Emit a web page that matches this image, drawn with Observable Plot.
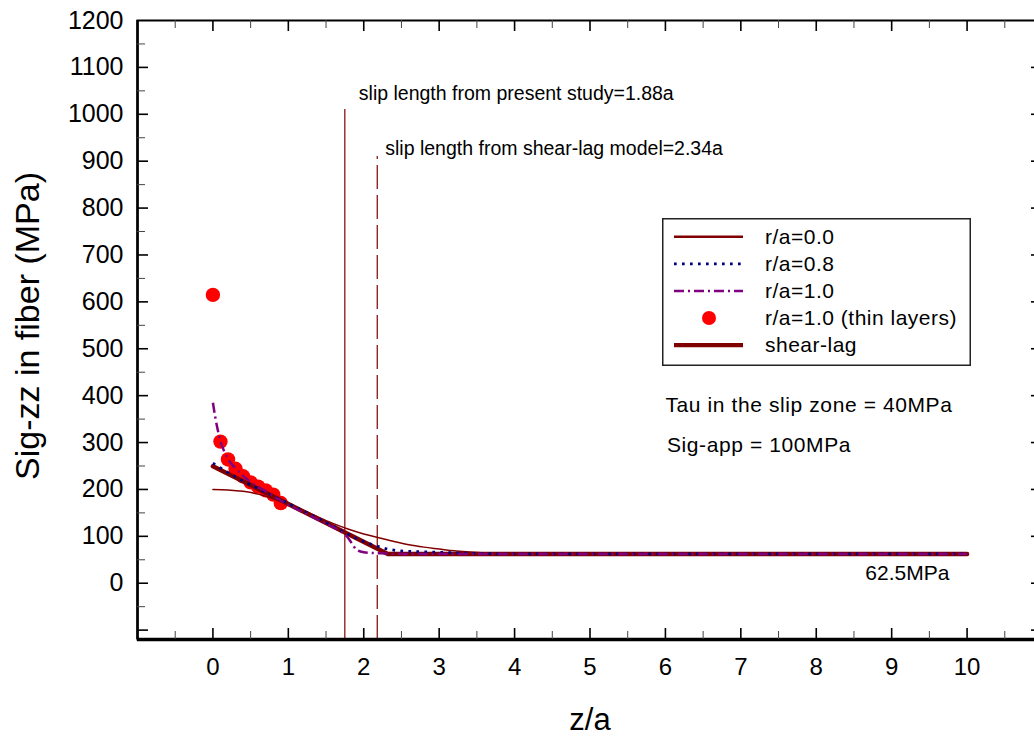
<!DOCTYPE html>
<html><head><meta charset="utf-8">
<script src="https://cdn.jsdelivr.net/npm/d3@7"></script>
<script src="https://cdn.jsdelivr.net/npm/@observablehq/plot@0.6"></script>
<style>
html,body{margin:0;padding:0;background:#fff;overflow:hidden;}
#wrap{position:relative;width:1034px;height:740px;overflow:hidden;}
#wrap > svg{max-width:none !important;}
#legend{position:absolute;left:662px;top:218px;}
</style></head><body><div id="wrap"></div>
<script>
// ---- data ----
const xDomain = [-1, 11];
const yDomain = [-120, 1200];
const xLabelTicks = [0,1,2,3,4,5,6,7,8,9,10];
const yLabelTicks = [0,100,200,300,400,500,600,700,800,900,1000,1100,1200];
const xMajor = [0,1,2,3,4,5,6,7,8,9,10];
const xMinor = [-0.5,0.5,1.5,2.5,3.5,4.5,5.5,6.5,7.5,8.5,9.5,10.5];
const yMajor = [-100,0,100,200,300,400,500,600,700,800,900,1000,1100];
const yMinor = [-50,50,150,250,350,450,550,650,750,850,950,1050,1150];

// r/a = 0.0
const zR00 = [0,0.2,0.4,0.6,0.8,1.0,1.2,1.4,1.6,1.8,2.0,2.2,2.4,2.6,2.8,3.0,3.2,3.4,3.6,3.8,4.0,5,6,7,8,9,10];
const sR00 = [200,199,196,190,180,168,155,141,127,115,105,97,89,82,77,73,69,66.5,64.5,63.5,63,62.5,62.5,62.5,62.5,62.5,62.5];
// r/a = 0.8
const zR08 = [0,0.1,0.2,0.4,0.6,0.8,1.0,1.2,1.4,1.6,1.8,1.9,2.0,2.1,2.2,2.3,2.4,2.5,2.6,2.8,3.0,3.2,3.4,3.6,4,5,6,7,8,9,10];
const sR08 = [256,246,236,218,202,186,170,154,138,121,104,96,89,83,78,73.5,70.5,69,68,67,66,65,64,63.2,62.5,62.5,62.5,62.5,62.5,62.5,62.5];
// r/a = 1.0
const zR10 = [0,0.03,0.06,0.1,0.15,0.2,0.3,0.4,0.5,0.6,0.7,0.8,0.9,1.0,1.2,1.4,1.6,1.7,1.8,1.85,1.9,2.0,2.1,2.3,2.5,3,4,5,6,7,8,9,10];
const sR10 = [385,355,330,303,281,265,245,229,216,205,196,186,176,167,151,135,119,110,95,83,72,66,64.5,63.5,62.5,62.5,62.5,62.5,62.5,62.5,62.5,62.5,62.5];
// r/a = 1.0 (thin layers)
const zThin = [0,0.1,0.2,0.3,0.4,0.5,0.6,0.7,0.8,0.9];
const sThin = [615,302,264,244,228,215,206,198,189,171];
// shear-lag
const zShear = [0,2.32,10];
const sShear = [249.5,62.5,62.5];

// slip lengths (drawn position, top of line, label)
const slipZ = [1.749, 2.179];
const slipTop = [1010, 910];
const slipText = ["slip length from present study=1.88a", "slip length from shear-lag model=2.34a"];

const noteText = ["Tau in the slip zone = 40MPa", "Sig-app = 100MPa", "62.5MPa"];
const noteZ = [6.0, 6.02, 8.65];
const noteS = [379, 294, 22];

const legendNames = ["r/a=0.0","r/a=0.8","r/a=1.0","r/a=1.0 (thin layers)","shear-lag"];
const legendColors = ["#800000","#000080","#800080","#ff0000","#800000"];

// ---- build ----
const zip = (zs, ss) => zs.map((z, i) => ({z, s: ss[i]}));
const r00 = zip(zR00, sR00), r08 = zip(zR08, sR08), r10 = zip(zR10, sR10);
const thin = zip(zThin, sThin), shear = zip(zShear, sShear);
const slip = slipZ.map((z, i) => ({z, top: slipTop[i], label: slipText[i]}));
const notes = noteText.map((t, i) => ({t, z: noteZ[i], s: noteS[i]}));

const FONT = "'Liberation Sans', Arial, sans-serif";
const x0 = xDomain[0], x1 = xDomain[1], y0 = yDomain[0], y1 = yDomain[1];

const chart = Plot.plot({
  width: 1045, height: 740,
  marginLeft: 137, marginRight: 3, marginTop: 20, marginBottom: 101,
  style: {fontFamily: FONT, background: "#fff", overflow: "visible", color: "#000", maxWidth: "none"},
  x: {domain: xDomain},
  y: {domain: yDomain},
  marks: [
    // vertical slip-length lines
    Plot.ruleX([slip[0]], {x: "z", y1: y0, y2: "top", stroke: "#800000", strokeWidth: 1.2}),
    Plot.ruleX([slip[1]], {x: "z", y1: y0, y2: "top", stroke: "#800000", strokeWidth: 1.2, strokeDasharray: "24,6"}),
    Plot.text([slip[0]], {x: "z", y: "top", text: "label", textAnchor: "start", dx: 14, dy: -16, fontSize: 19.5, fill: "#000"}),
    Plot.text([slip[1]], {x: "z", y: "top", text: "label", textAnchor: "start", dx: 8, dy: -8, fontSize: 19.5, fill: "#000"}),
    // data
    Plot.dot(thin, {x: "z", y: "s", r: 7.2, fill: "#ff0000", stroke: null}),
    Plot.line(shear, {x: "z", y: "s", stroke: "#800000", strokeWidth: 4.5}),
    Plot.line(r00, {x: "z", y: "s", stroke: "#800000", strokeWidth: 1.5, curve: "monotone-x"}),
    Plot.line(r08, {x: "z", y: "s", stroke: "#000080", strokeWidth: 2.7, strokeDasharray: "2.7,5.3", strokeLinecap: "butt", curve: "monotone-x"}),
    Plot.line(r10, {x: "z", y: "s", stroke: "#800080", strokeWidth: 2.5, strokeDasharray: "10,4,2,4", strokeLinecap: "butt", curve: "monotone-x"}),
    // notes
    Plot.text(notes.slice(0,2), {x: "z", y: "s", text: "t", textAnchor: "start", fontSize: 21, fill: "#000", className: "spaced"}),
    Plot.text(notes.slice(2), {x: "z", y: "s", text: "t", textAnchor: "start", fontSize: 21, fill: "#000"}),
    // frame and ticks
    Plot.frame({stroke: "#000", strokeWidth: 2}),
    Plot.ruleY([y0], {stroke: "#000", strokeWidth: 3.5}),
    Plot.ruleX([x0], {stroke: "#000", strokeWidth: 2.5}),
    Plot.ruleY(yMajor, {y: d => d, x1: x0, x2: x0, insetRight: -11, stroke: "#000", strokeWidth: 1.6}),
    Plot.ruleY(yMinor, {y: d => d, x1: x0, x2: x0, insetRight: -8, stroke: "#444", strokeWidth: 1}),
    Plot.ruleY(yMajor, {y: d => d, x1: x1, x2: x1, insetLeft: -11, stroke: "#000", strokeWidth: 1.6}),
    Plot.ruleY(yMinor, {y: d => d, x1: x1, x2: x1, insetLeft: -8, stroke: "#444", strokeWidth: 1}),
    Plot.ruleX(xMajor, {x: d => d, y1: y0, y2: y0, insetBottom: 11, stroke: "#000", strokeWidth: 1.6}),
    Plot.ruleX(xMinor, {x: d => d, y1: y0, y2: y0, insetBottom: 8, stroke: "#444", strokeWidth: 1}),
    Plot.ruleX(xMajor, {x: d => d, y1: y1, y2: y1, insetBottom: -11, stroke: "#000", strokeWidth: 1.6}),
    Plot.ruleX(xMinor, {x: d => d, y1: y1, y2: y1, insetBottom: -8, stroke: "#444", strokeWidth: 1}),
    Plot.axisY({ticks: yLabelTicks, tickSize: 0, tickPadding: 14, fontSize: 25, label: null, tickFormat: d => String(d)}),
    Plot.axisX({ticks: xLabelTicks, tickSize: 0, tickPadding: 18, fontSize: 24, label: null, tickFormat: d => String(d)}),
    // axis titles
    Plot.text(["Sig-zz in fiber (MPa)"], {frameAnchor: "left", textAnchor: "middle", lineAnchor: "middle", rotate: -90, dx: -109, dy: -4, fontSize: 34, fill: "#000"}),
    Plot.text(["z/a"], {frameAnchor: "bottom", textAnchor: "middle", lineAnchor: "middle", dx: 0, dy: 81, fontSize: 31, fill: "#000"})
  ]
});
chart.style.maxWidth = "none";
chart.querySelectorAll(".spaced text").forEach(t => t.setAttribute("letter-spacing", "0.6px"));
const wrap = document.getElementById("wrap");
wrap.appendChild(chart);

// ---- legend ----
const lw = 309, lh = 148;
const leg = d3.create("svg").attr("id", "legend").attr("width", lw).attr("height", lh)
  .style("font-family", FONT);
leg.append("rect").attr("x", 0.75).attr("y", 0.75).attr("width", lw - 1.5).attr("height", lh - 1.5)
  .attr("fill", "#fff").attr("stroke", "#222").attr("stroke-width", 1.5);
const rowY = i => 18.7 + i * 27.1;
const styles = [
  {w: 2.5, dash: null},
  {w: 2.7, dash: "2.7,5.3"},
  {w: 2.5, dash: "10,4,2,4"},
  null,
  {w: 4.2, dash: null}
];
legendNames.forEach((name, i) => {
  const y = rowY(i);
  if (styles[i]) {
    leg.append("line").attr("x1", 12).attr("x2", 81).attr("y1", y).attr("y2", y)
      .attr("stroke", legendColors[i]).attr("stroke-width", styles[i].w)
      .attr("stroke-dasharray", styles[i].dash).attr("stroke-linecap", "butt");
  } else {
    leg.append("circle").attr("cx", 47).attr("cy", y).attr("r", 7).attr("fill", legendColors[i]);
  }
  leg.append("text").attr("x", 103).attr("y", y).attr("dy", "0.35em")
    .attr("font-size", 21).attr("letter-spacing", "0.5px").attr("fill", "#000").text(name);
});
wrap.appendChild(leg.node());
</script>
</body></html>
